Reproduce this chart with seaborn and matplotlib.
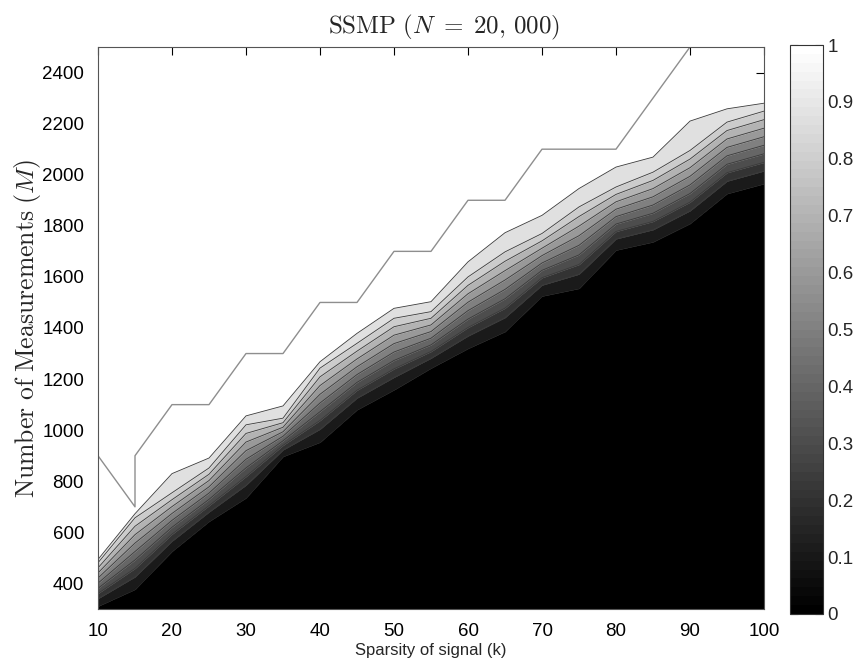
import numpy as np
import matplotlib
matplotlib.use("Agg")
import matplotlib.pyplot as plt
import seaborn as sns
from matplotlib.colors import ListedColormap, Normalize
from matplotlib.cm import ScalarMappable

# ---------------- data ----------------
k_vals = [10, 15, 20, 25, 30, 35, 40, 45, 50, 55, 60, 65, 70, 75, 80, 85, 90, 95, 100]
# M where success probability crosses 0.1 (top of black region)
m_p01 = [311, 377, 526, 643, 735, 897, 953, 1080, 1158, 1243, 1320, 1386, 1525, 1555,
         1705, 1737, 1809, 1926, 1965]
# M where success probability crosses 0.2
m_p02 = [341, 426, 566, 680, 785, 923, 1004, 1126, 1207, 1282, 1369, 1441, 1568, 1611,
         1749, 1785, 1859, 1975, 2015]
# M where success probability crosses 0.9
m_p09 = [481, 657, 755, 852, 1021, 1047, 1243, 1340, 1438, 1464, 1600, 1698, 1770, 1874,
         1952, 2010, 2095, 2206, 2249]
# M where success probability reaches 1
m_p10 = [494, 673, 830, 891, 1056, 1095, 1268, 1379, 1477, 1503, 1659, 1773, 1841, 1946,
         2030, 2069, 2210, 2258, 2280]
# grey boundary line
boundary_k = [10, 15, 15, 20, 25, 30, 35, 40, 45, 50, 55, 60, 65, 70, 75, 80, 90]
boundary_m = [900, 700, 900, 1100, 1100, 1300, 1300, 1500, 1500, 1700, 1700, 1900, 1900,
              2100, 2100, 2100, 2500]
prob_levels = [0.1, 0.2, 0.3, 0.4, 0.5, 0.6, 0.7, 0.8, 0.9, 1.0]
x_ticks = [10, 20, 30, 40, 50, 60, 70, 80, 90, 100]
y_ticks = [400, 600, 800, 1000, 1200, 1400, 1600, 1800, 2000, 2200, 2400]
cbar_ticks = [0, 0.1, 0.2, 0.3, 0.4, 0.5, 0.6, 0.7, 0.8, 0.9, 1]
cbar_labels = ["0", "0.1", "0.2", "0.3", "0.4", "0.5", "0.6", "0.7", "0.8", "0.9", "1"]

# ---------------- style ----------------
sns.set_theme(style="white")
plt.rcParams['font.family'] = ['Liberation Sans', 'DejaVu Sans']
plt.rcParams['mathtext.fontset'] = 'cm'

# contour curves for each probability level (0.3..0.8 evenly between 0.2 and 0.9)
k_arr = np.array(k_vals, dtype=float)
p02 = np.array(m_p02, dtype=float)
p09 = np.array(m_p09, dtype=float)
curves = [np.array(m_p01, dtype=float)]
for i in range(8):
    curves.append(p02 + (p09 - p02) * i / 7.0)
curves.append(np.array(m_p10, dtype=float))

W, H = 859, 665
fig = plt.figure(figsize=(W / 100, H / 100), dpi=100)
ax = fig.add_axes([98 / W, 1 - 609 / H, (764 - 98) / W, (609 - 47) / H])

band_grey = [0.0, 0.1, 0.2, 0.3, 0.4, 0.5, 0.6, 0.7, 0.8, 0.88]
lower = np.full_like(k_arr, 300.0)
for i, c in enumerate(curves):
    ax.fill_between(k_arr, lower, c, color=str(band_grey[i]), linewidth=0.3,
                    edgecolor=str(band_grey[i]))
    lower = c
for i, c in enumerate(curves[1:]):
    sns.lineplot(x=k_arr, y=c, color='#3a3a3a', linewidth=0.6, ax=ax, legend=False,
                 estimator=None, sort=False)

sns.lineplot(x=boundary_k, y=boundary_m, sort=False, estimator=None, color='#8e8e8e',
             linewidth=1.0, ax=ax, legend=False)

ax.set_xlim(10, 100)
ax.set_ylim(300, 2500)
ax.set_xticks(x_ticks)
ax.set_yticks(y_ticks)
ax.tick_params(direction='in', length=6, width=0.8, top=True, right=True,
               labelsize=13.5, colors='#000000')
ax.tick_params(axis='y', pad=10)
ax.tick_params(axis='x', pad=10)
for s in ax.spines.values():
    s.set_visible(True)
    s.set_color('#555555')
    s.set_linewidth(0.8)

ax.set_xlabel("Sparsity of signal (k)", fontsize=12, labelpad=2)
ax.set_ylabel(r"$\mathrm{Number\ of\ Measurements}\ (M)$", fontsize=18.5, labelpad=-1)
ax.set_title(r"$\mathrm{SSMP}\ (N\;=\;20,\,000)$", fontsize=18, pad=10, x=(444 - 98) / 666)

# ---------------- colorbar ----------------
cax = fig.add_axes([790 / W, 1 - 614 / H, 33 / W, (614 - 45) / H])
sm = ScalarMappable(norm=Normalize(0, 1), cmap=ListedColormap(plt.cm.gray(np.linspace(0, 1, 64))))
cb = fig.colorbar(sm, cax=cax, ticks=cbar_ticks)
cb.ax.set_yticklabels(cbar_labels)
cb.ax.tick_params(direction='in', length=6, width=0.8, left=True, right=True,
                  labelsize=13.5, pad=3)
cb.outline.set_edgecolor('#333333')
cb.outline.set_linewidth(0.8)

fig.savefig("out.png", dpi=100)
